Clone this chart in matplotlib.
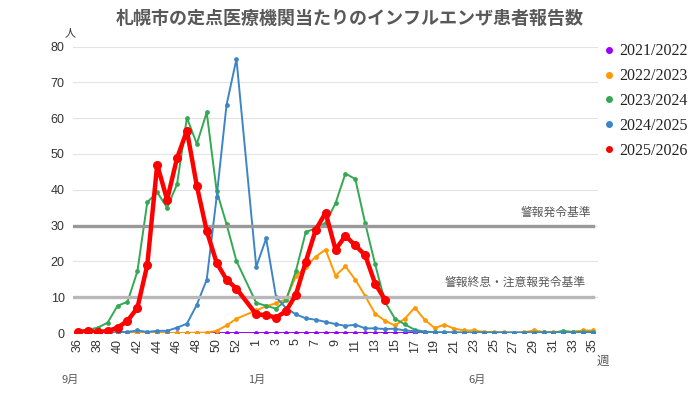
import numpy as np
import matplotlib
matplotlib.use("Agg")
import matplotlib.pyplot as plt
from matplotlib.lines import Line2D

plt.rcParams['font.family'] = ['Noto Sans CJK JP', 'DejaVu Sans']

N = None
weeks = list(range(36, 54)) + list(range(1, 36))
week_labels = [str(w) if i % 2 == 0 else "" for i, w in enumerate(weeks)]

series_names = ["2021/2022", "2022/2023", "2023/2024", "2024/2025", "2025/2026"]
colors = ["#9900ff", "#ff9900", "#34a853", "#3d85c6", "#ff0000"]

s2021 = [0]*17 + [N] + [0]*35
s2022 = [0, 0, 0, 0, 0, 0, 0, 0, 0, 0, 0, 0, 0.1, 0.1, 0.6, 2.1, 4.0, N,
         6.3, 7.5, 8.3, 9.4, 15.8, 18.5, 21.3, 23.3, 16.0, 18.6, 14.9, 10.3, 5.4, 3.4,
         2.1, 4.0, 7.1, 3.7, 1.4, 2.3, 1.2, 0.7, 0.7, 0.3, 0.3, 0.2, 0.1, 0.2, 0.7, 0.3,
         0.3, 0.3, 0.4, 0.7, 0.7]
s2023 = [0.5, 0.9, 1.5, 2.9, 7.6, 8.7, 17.2, 36.5, 39.3, 35.0, 41.5, 60.1, 52.8, 61.6,
         39.7, 30.4, 20.1, N,
         8.4, 7.6, 6.8, 9.1, 17.3, 28.2, 29.2, 30.8, 36.2, 44.5, 43.0, 30.6, 19.2, 8.7,
         4.0, 2.4, 0.9, 0.4, 0.2, 0.1, 0.1, 0.1, 0.1, 0.1, 0.1, 0.1, 0.1, 0.1, 0.1, 0.2,
         0.1, 0.6, 0.2, 0.3, 0.3]
s2024 = [0.1, 0.1, 0.1, 0.1, 0.2, 0.3, 0.7, 0.3, 0.6, 0.6, 1.5, 2.6, 7.9, 14.9, 38.0,
         63.7, 76.5, N,
         18.5, 26.4, 10.0, 7.0, 5.2, 4.1, 3.7, 3.1, 2.5, 2.0, 2.3, 1.3, 1.3, 1.1,
         1.2, 0.7, 0.5, 0.3, 0.2, 0.2, 0.2, 0.1, 0.1, 0.1, 0.1, 0.1, 0.1, 0.1, 0.1, 0.1,
         0.1, 0.1, 0.1, 0.1, 0.1]
s2025 = [0.3, 0.5, 0.3, 0.5, 1.5, 3.4, 7.0, 19.0, 47.0, 37.2, 48.8, 56.5, 41.1, 28.5,
         19.6, 14.9, 12.4, N,
         5.2, 5.0, 4.3, 6.1, 10.7, 19.9, 28.8, 33.6, 23.3, 27.1, 24.5, 21.7, 13.8, 9.3] + [N]*21

all_series = [s2021, s2022, s2023, s2024, s2025]

alarm_level = 30
end_level = 10

fig = plt.figure(figsize=(7, 3.94), dpi=100)
ax = fig.add_axes([73/700, 1-333/394, 525/700, (333-46.5)/394])

x = np.arange(len(weeks))
for i, (name, col, s) in enumerate(zip(series_names, colors, all_series)):
    arr = np.array([np.nan if v is None else v for v in s], dtype=float)
    m = ~np.isnan(arr)
    if name == "2025/2026":
        ax.plot(x[m], arr[m], color=col, lw=3.2, marker='o', ms=5.5, zorder=5,
                solid_joinstyle='round')
    else:
        ax.plot(x[m], arr[m], color=col, lw=1.4, marker='o', ms=2.4, zorder=3 + i*0.1)

ax.axhline(alarm_level, xmin=0, xmax=0.99, color="#999999", lw=2.4, zorder=4)
ax.axhline(end_level, xmin=0, xmax=0.99, color="#b8b8b8", lw=2.4, zorder=4)

ax.text(51.8, alarm_level + 1.8, "警報発令基準", ha='right', va='bottom',
        fontsize=8.5, color="#595959")
ax.text(51.3, end_level + 2.3, "警報終息・注意報発令基準", ha='right', va='bottom',
        fontsize=8.5, color="#595959")

ax.set_xlim(-0.5, 52.5)
ax.set_ylim(0, 80)
ax.set_yticks(range(0, 81, 10))
ax.set_xticks(x)
ax.set_xticklabels(week_labels, rotation=90, fontsize=9, color="#333333",
                   family=['Liberation Sans', 'DejaVu Sans'])
for lab in ax.get_yticklabels():
    lab.set_fontsize(9)
    lab.set_color("#333333")
    lab.set_family(['Liberation Sans', 'DejaVu Sans'])
ax.tick_params(axis='both', length=0, pad=4)
ax.tick_params(axis='y', pad=6)
ax.grid(axis='y', color="#e3e3e3", lw=0.8, zorder=0)
ax.set_axisbelow(True)
for sp in ax.spines.values():
    sp.set_visible(False)

fig.text(350/700, 1-18/394, "札幌市の定点医療機関当たりのインフルエンザ患者報告数",
         ha='center', va='center', fontsize=13, fontweight='bold', color="#595959")
fig.text(70/700, 1-33/394, "人", ha='center', va='center', fontsize=8, color="#333333")
fig.text(603/700, 1-361/394, "週", ha='center', va='center', fontsize=9, color="#595959")
for xp, t in [(70, "9月"), (257, "1月"), (477, "6月")]:
    fig.text(xp/700, 1-380/394, t, ha='center', va='center', fontsize=8, color="#595959")

handles = [Line2D([], [], color=c, marker='o', ls='none', ms=4) for c in colors]
leg = fig.legend(handles, series_names, loc='upper left', bbox_to_anchor=(598/700, 1-37/394),
                 frameon=False, prop={'family': 'Liberation Serif', 'size': 11.5},
                 handlelength=0.6, handletextpad=0.3, labelspacing=0.55, borderaxespad=0)
for t in leg.get_texts():
    t.set_color("#222222")

fig.savefig("out.png", dpi=100)
